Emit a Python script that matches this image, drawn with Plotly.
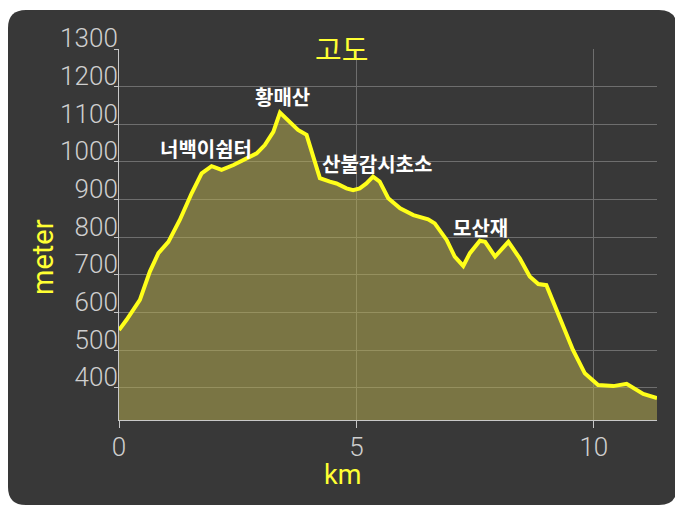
import plotly.graph_objects as go

# elevation profile
km = [0, 0.16, 0.44, 0.65, 0.83, 1.04, 1.28, 1.53, 1.74, 1.95, 2.02, 2.16, 2.41,
      2.69, 2.90, 3.07, 3.25, 3.39, 3.6, 3.77, 3.95, 4.09, 4.23, 4.44, 4.58, 4.79,
      4.93, 5.07, 5.21, 5.35, 5.49, 5.67, 5.92, 6.2, 6.51, 6.65, 6.9, 7.07, 7.25,
      7.39, 7.6, 7.71, 7.92, 8.2, 8.44, 8.65, 8.83, 9.0, 9.18, 9.43, 9.56, 9.81,
      10.09, 10.41, 10.69, 11.04, 11.33]
meter = [554, 581, 634, 709, 758, 788, 846, 917, 970, 989, 986, 979, 992,
         1011, 1023, 1045, 1080, 1131, 1107, 1085, 1072, 1014, 957, 948, 943, 930,
         925, 930, 943, 961, 948, 904, 877, 859, 848, 837, 793, 749, 724,
         758, 791, 788, 749, 788, 744, 696, 676, 673, 616, 537, 501, 439,
         408, 405, 411, 384, 373]

# place names along the trail
place_names = ["너백이쉼터", "황매산", "산불감시초소", "모산재"]
place_km = [1.83, 3.45, 5.43, 7.62]
place_m = [1035, 1173, 997, 827]

# the page body has an 8px margin, so lay out the figure 8px smaller
OFF = 8
W, H = 683 - OFF, 518 - OFF
ML, MT = 119 - OFF, 49 - OFF
PLOT_R, PLOT_B = 657 - OFF, 420 - OFF
MR, MB = W - PLOT_R, H - PLOT_B
pw, ph = PLOT_R - ML, PLOT_B - MT


def px_to_paper(px, py):
    # page pixel -> paper coordinates of the plot area
    fx, fy = px - OFF, py - OFF
    return (fx - ML) / pw, (PLOT_B - fy) / ph


# rounded dark panel behind the chart
x0, y1 = px_to_paper(OFF, 10)
x1, y0 = px_to_paper(677, 505)
rx, ry = 18 / pw, 18 / ph
panel = (f"M {x0 + rx},{y1} L {x1 - rx},{y1} Q {x1},{y1} {x1},{y1 - ry} "
         f"L {x1},{y0 + ry} Q {x1},{y0} {x1 - rx},{y0} L {x0 + rx},{y0} "
         f"Q {x0},{y0} {x0},{y0 + ry} L {x0},{y1 - ry} Q {x0},{y1} {x0 + rx},{y1} Z")

fig = go.Figure()
fig.add_trace(go.Scatter(
    x=km, y=meter,
    mode="lines",
    line=dict(color="#ffff1a", width=4),
    fill="tozeroy",
    fillcolor="rgba(188,178,80,0.5)",
    showlegend=False,
    hoverinfo="skip",
))

for name, xk, ym in zip(place_names, place_km, place_m):
    fig.add_annotation(x=xk, y=ym, text=f"<b>{name}</b>", showarrow=False,
                       font=dict(family="Noto Sans CJK KR", size=20, color="white"))

yellow = "#ffff33"
# chart title and axis titles, centred on the panel like the original
tx, ty = px_to_paper(341, 48)
fig.add_annotation(x=tx, y=ty, xref="paper", yref="paper", text="고도", showarrow=False,
                   xanchor="center", yanchor="middle",
                   font=dict(family="Noto Sans CJK KR", size=29, color=yellow))
kx, ky = px_to_paper(342, 475)
fig.add_annotation(x=kx, y=ky, xref="paper", yref="paper", text="km", showarrow=False,
                   xanchor="center", yanchor="middle",
                   font=dict(family="Roboto", size=27, color=yellow))
mx, my = px_to_paper(43, 257)
fig.add_annotation(x=mx, y=my, xref="paper", yref="paper", text="meter", showarrow=False,
                   xanchor="center", yanchor="middle", textangle=-90,
                   font=dict(family="Roboto", size=29, color=yellow))

tick_font = dict(family="Roboto", size=26, color="#cfcfcf", weight=300)

fig.update_layout(
    width=W, height=H,
    margin=dict(l=ML, r=MR, t=MT, b=MB, autoexpand=False),
    paper_bgcolor="white",
    plot_bgcolor="rgba(0,0,0,0)",
    shapes=[dict(type="path", xref="paper", yref="paper", path=panel,
                 fillcolor="#383838", line=dict(width=0), layer="below")],
    xaxis=dict(
        range=[0, 11.33], tick0=0, dtick=5,
        showgrid=True, gridcolor="#6e6e6e", gridwidth=1, zeroline=False,
        showline=True, linecolor="#c8c8c8", linewidth=1,
        ticks="outside", ticklen=7, tickcolor="#c8c8c8",
        ticklabelstandoff=-3,
        tickfont=tick_font,
    ),
    yaxis=dict(
        range=[315, 1300], tick0=400, dtick=100,
        showgrid=True, gridcolor="#6e6e6e", gridwidth=1, zeroline=False,
        showline=True, linecolor="#c8c8c8", linewidth=1,
        ticks="outside", ticklen=4, tickcolor="#c8c8c8",
        ticklabelposition="outside top",
        ticklabelshift=8, ticklabelstandoff=-5,
        tickfont=tick_font,
    ),
)

fig.write_html("out.html")
